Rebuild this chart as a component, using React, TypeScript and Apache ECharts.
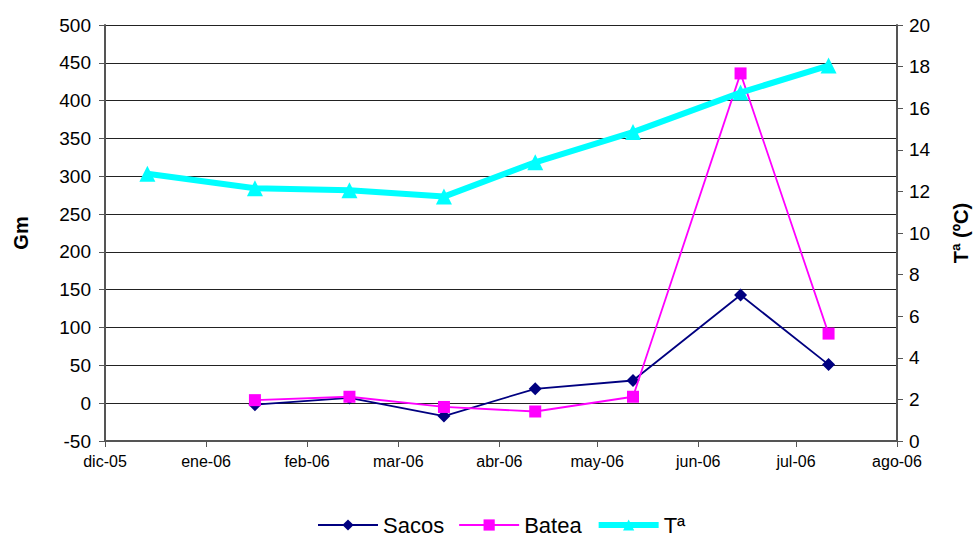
import React, { useEffect, useRef } from "react";
import * as echarts from "echarts";

const tempDates = ["2005-12-14", "2006-01-16", "2006-02-14", "2006-03-15", "2006-04-12", "2006-05-12", "2006-06-14", "2006-07-11"];
const tempValues = [12.85, 12.15, 12.05, 11.75, 13.4, 14.85, 16.75, 18.05];
const gmDates = ["2006-01-16", "2006-02-14", "2006-03-15", "2006-04-12", "2006-05-12", "2006-06-14", "2006-07-11"];
const sacosValues = [-2, 7, -17, 19, 30, 143, 51];
const bateaValues = [4, 8.5, -5, -11, 8.5, 436, 92];
const monthNames = ["ene", "feb", "mar", "abr", "may", "jun", "jul", "ago", "sep", "oct", "nov", "dic"];

export default function App() {
  const ref = useRef<HTMLDivElement>(null);
  useEffect(() => {
    if (!ref.current) return;
    const chart = echarts.init(ref.current, undefined, { renderer: "svg" });
    const font = "'Liberation Sans', Arial, sans-serif";
    chart.setOption({
      animation: false,
      backgroundColor: "#ffffff",
      textStyle: { fontFamily: font },
      grid: { left: 105, right: 82, top: 25, bottom: 95, containLabel: false },
      legend: {
        bottom: 0,
        left: 317,
        padding: 0,
        itemWidth: 60,
        itemHeight: 14,
        itemGap: 14,
        textStyle: { fontSize: 22, color: "#000", fontFamily: font },
        data: [
          { name: "Sacos" },
          { name: "Batea" },
          { name: "Tª", lineStyle: { width: 6 } },
        ],
      },
      xAxis: {
        type: "time",
        min: "2005-12-01",
        max: "2006-08-01",
        minInterval: 28 * 86400000,
        maxInterval: 31 * 86400000,
        axisLine: { onZero: false, lineStyle: { color: "#555", width: 2 } },
        axisTick: { show: true, length: 6, lineStyle: { color: "#555" } },
        splitLine: { show: false },
        axisLabel: {
          color: "#000",
          fontSize: 16,
          margin: 12,
          showMinLabel: true,
          showMaxLabel: true,
          formatter: (v: number) => {
            const d = new Date(v);
            return monthNames[d.getMonth()] + "-" + String(d.getFullYear()).slice(2);
          },
        },
      },
      yAxis: [
        {
          type: "value",
          min: -50,
          max: 500,
          interval: 50,
          name: "Gm",
          nameLocation: "middle",
          nameGap: 74,
          nameTextStyle: { fontSize: 20, fontWeight: "bold", color: "#000" },
          axisLine: { show: true, lineStyle: { color: "#555", width: 2 } },
          axisTick: { show: true, length: 6, lineStyle: { color: "#555" } },
          axisLabel: { color: "#000", fontSize: 19, margin: 14 },
          splitLine: { show: true, lineStyle: { color: "#222", width: 1 } },
        },
        {
          type: "value",
          min: 0,
          max: 20,
          interval: 2,
          name: "Tª (ºC)",
          nameLocation: "middle",
          nameGap: 54,
          nameRotate: 90,
          nameTextStyle: { fontSize: 20, fontWeight: "bold", color: "#000" },
          axisLine: { show: true, lineStyle: { color: "#555", width: 2 } },
          axisTick: { show: true, length: 6, lineStyle: { color: "#555" } },
          axisLabel: { color: "#000", fontSize: 19, margin: 12 },
          splitLine: { show: false },
        },
      ],
      series: [
        {
          name: "Sacos",
          type: "line",
          yAxisIndex: 0,
          data: gmDates.map((d, i) => [d, sacosValues[i]]),
          symbol: "diamond",
          symbolSize: 13,
          lineStyle: { color: "#000080", width: 1.8 },
          itemStyle: { color: "#000080" },
          z: 3,
        },
        {
          name: "Batea",
          type: "line",
          yAxisIndex: 0,
          data: gmDates.map((d, i) => [d, bateaValues[i]]),
          symbol: "rect",
          symbolSize: 12,
          lineStyle: { color: "#ff00ff", width: 1.8 },
          itemStyle: { color: "#ff00ff" },
          z: 4,
        },
        {
          name: "Tª",
          type: "line",
          yAxisIndex: 1,
          data: tempDates.map((d, i) => [d, tempValues[i]]),
          symbol: "triangle",
          symbolSize: 16,
          lineStyle: { color: "#00ffff", width: 6 },
          itemStyle: { color: "#00ffff" },
          z: 5,
        },
      ],
    });
    return () => chart.dispose();
  }, []);
  return <div ref={ref} style={{ width: 979, height: 536, position: "absolute", left: 0, top: 0 }} />;
}
